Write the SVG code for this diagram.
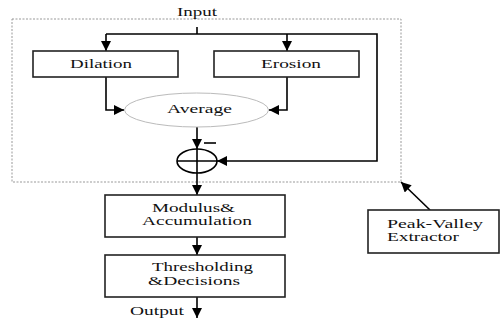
<svg xmlns="http://www.w3.org/2000/svg" width="501" height="323" viewBox="0 0 501 323">
<defs>
<marker id="ah" viewBox="0 0 10 10" refX="10" refY="5" markerWidth="10" markerHeight="10" markerUnits="userSpaceOnUse" orient="auto">
<path d="M0,0 L10,5 L0,10 z" fill="#000"/>
</marker>
</defs>
<style>
.box{fill:#fff;stroke:#222;stroke-width:1.6}
.ln{fill:none;stroke:#000;stroke-width:1.6}
.t{font-family:"Liberation Serif","Times New Roman",serif;font-size:12px;fill:#111}
</style>
<rect id="extractor-region" x="12" y="19" width="389" height="163" fill="none" stroke="#999" stroke-width="1" stroke-dasharray="2,1.5"/>
<g id="connectors">
<path class="ln" d="M197,27 V34"/>
<path class="ln" d="M106,34 H377 V161 H217" marker-end="url(#ah)"/>
<path class="ln" d="M106,34 V51" marker-end="url(#ah)"/>
<path class="ln" d="M287,34 V51" marker-end="url(#ah)"/>
<path class="ln" d="M106,77 V110 H124" marker-end="url(#ah)"/>
<path class="ln" d="M287,77 V110 H269" marker-end="url(#ah)"/>
<path class="ln" d="M197,127 V149" marker-end="url(#ah)"/>
<path class="ln" d="M197,173 V195" marker-end="url(#ah)"/>
<path class="ln" d="M197,237 V255" marker-end="url(#ah)"/>
<path class="ln" d="M197,297 V318" marker-end="url(#ah)"/>
<path class="ln" d="M430,210 L401,182" marker-end="url(#ah)"/>
<path class="ln" d="M204,143 H216" stroke-width="1.2"/>
</g>
<text class="t" x="177" y="16" textLength="40" lengthAdjust="spacingAndGlyphs">Input</text>
<g id="dilation">
<rect class="box" x="33" y="51" width="145" height="26"/>
<text class="t" x="70" y="68" textLength="62" lengthAdjust="spacingAndGlyphs">Dilation</text>
</g>
<g id="erosion">
<rect class="box" x="214" y="51" width="145" height="26"/>
<text class="t" x="261" y="68" textLength="60" lengthAdjust="spacingAndGlyphs">Erosion</text>
</g>
<g id="average">
<ellipse cx="196.5" cy="110" rx="72" ry="17" fill="#fff" stroke="#bbb" stroke-width="1"/>
<text class="t" x="167" y="113" textLength="65" lengthAdjust="spacingAndGlyphs">Average</text>
</g>
<g id="sum">
<ellipse cx="197" cy="161" rx="20" ry="12" fill="none" stroke="#000" stroke-width="1.6"/>
<path class="ln" d="M177,161 H217 M197,149 V173"/>
</g>
<g id="modulus">
<rect class="box" x="105" y="195" width="180" height="42"/>
<text class="t" x="152" y="212" textLength="83" lengthAdjust="spacingAndGlyphs">Modulus&amp;</text>
<text class="t" x="142" y="225" textLength="110" lengthAdjust="spacingAndGlyphs">Accumulation</text>
</g>
<g id="thresholding">
<rect class="box" x="105" y="255" width="180" height="42"/>
<text class="t" x="152" y="271" textLength="101" lengthAdjust="spacingAndGlyphs">Thresholding</text>
<text class="t" x="148" y="285" textLength="92" lengthAdjust="spacingAndGlyphs">&amp;Decisions</text>
</g>
<text class="t" x="130" y="315" textLength="54" lengthAdjust="spacingAndGlyphs">Output</text>
<g id="peak-valley">
<rect class="box" x="368" y="210" width="131" height="43"/>
<text class="t" x="387" y="228" textLength="96" lengthAdjust="spacingAndGlyphs">Peak-Valley</text>
<text class="t" x="387" y="241" textLength="72" lengthAdjust="spacingAndGlyphs">Extractor</text>
</g>
</svg>
